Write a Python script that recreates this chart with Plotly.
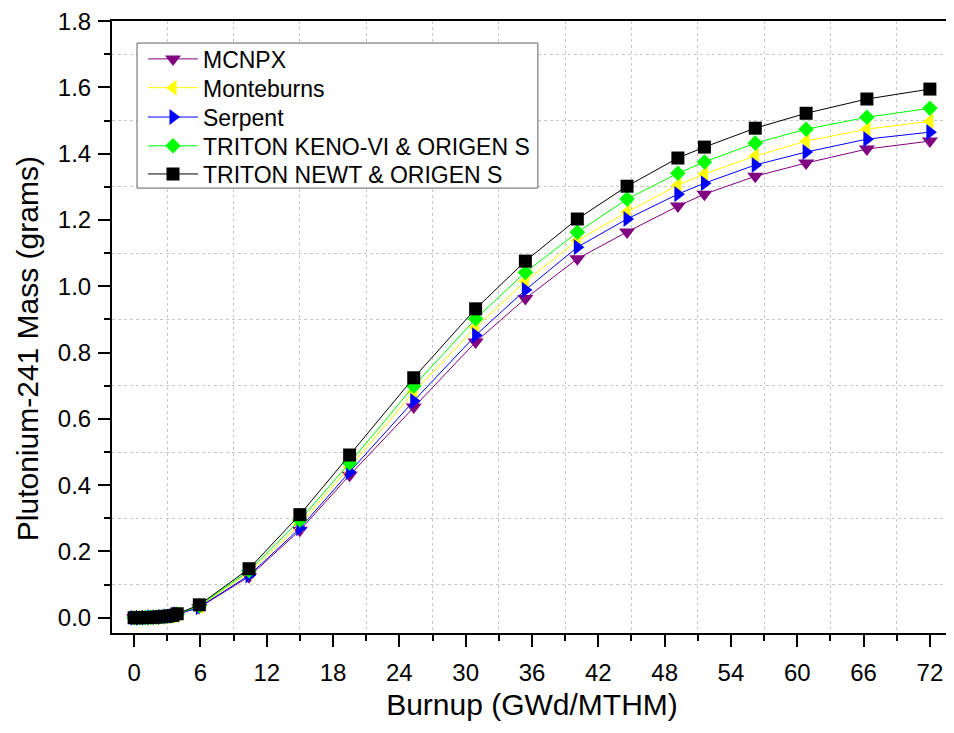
import plotly.graph_objects as go

burnup = [0, 0.5, 1.0, 1.5, 2.0, 2.5, 3.0, 3.5, 3.9, 5.9, 10.4, 15.0, 19.5, 25.3,
          30.9, 35.4, 40.1, 44.6, 49.2, 51.6, 56.2, 60.8, 66.3, 72.0]

mcnpx = [0, 0.0001, 0.0004, 0.0009, 0.0016, 0.0026, 0.0040, 0.0058, 0.0100, 0.031,
         0.124, 0.264, 0.430, 0.636, 0.832, 0.963, 1.083, 1.164, 1.242, 1.278,
         1.332, 1.372, 1.414, 1.438]
monteburns = [0, 0.0001, 0.0004, 0.0009, 0.0017, 0.0028, 0.0042, 0.0061, 0.0105, 0.034,
              0.136, 0.282, 0.455, 0.681, 0.876, 1.015, 1.138, 1.224, 1.305, 1.339,
              1.393, 1.438, 1.474, 1.498]
serpent = [0, 0.0001, 0.0004, 0.0009, 0.0016, 0.0027, 0.0041, 0.0060, 0.0102, 0.032,
           0.128, 0.270, 0.440, 0.654, 0.852, 0.989, 1.118, 1.203, 1.278, 1.311,
           1.366, 1.405, 1.444, 1.465]
keno = [0, 0.0001, 0.0005, 0.0010, 0.0018, 0.0029, 0.0044, 0.0064, 0.0110, 0.036,
        0.142, 0.295, 0.467, 0.699, 0.902, 1.042, 1.163, 1.263, 1.341, 1.375,
        1.432, 1.474, 1.510, 1.537]
newt = [0, 0.0001, 0.0005, 0.0011, 0.0019, 0.0031, 0.0047, 0.0068, 0.0120, 0.039,
        0.148, 0.311, 0.491, 0.724, 0.932, 1.076, 1.203, 1.302, 1.387, 1.420,
        1.477, 1.522, 1.565, 1.595]

series_names = ["MCNPX", "Monteburns", "Serpent",
                "TRITON KENO-VI & ORIGEN S", "TRITON NEWT & ORIGEN S"]
series_values = [mcnpx, monteburns, serpent, keno, newt]
series_colors = ["#800080", "#ffff00", "#0000ff", "#00ff00", "#000000"]
series_symbols = ["triangle-down", "triangle-left", "triangle-right", "diamond", "square"]
series_sizes = [14, 14, 14, 12, 13]

FONT = "Liberation Sans, Arial, sans-serif"
legend_ids = ["legend", "legend2", "legend3", "legend4", "legend5"]
legend_y = [0.938, 0.891, 0.843, 0.796, 0.750]

fig = go.Figure()
for i, name in enumerate(series_names):
    fig.add_trace(go.Scatter(
        x=burnup, y=series_values[i], name=name, mode="lines+markers",
        line=dict(color=series_colors[i], width=1),
        marker=dict(symbol=series_symbols[i], size=series_sizes[i],
                    color=series_colors[i], line=dict(width=0)),
        legend=legend_ids[i],
    ))

axis_common = dict(
    showline=True, linecolor="black", linewidth=2, mirror=True,
    ticks="outside", ticklen=12, tickwidth=2, tickcolor="black",
    showgrid=False, zeroline=False, automargin=False, ticklabeloverflow="allow",
    tickfont=dict(family=FONT, size=24, color="black"),
)

fig.update_xaxes(
    range=[-2, 74], tick0=0, dtick=6, ticklabelstandoff=5,
    minor=dict(dtick=3, ticks="outside", ticklen=6, tickwidth=2, tickcolor="black",
               showgrid=True, gridcolor="#c8c8c8", griddash="dot", gridwidth=1),
    title=dict(text="Burnup (GWd/MTHM)", font=dict(family=FONT, size=30, color="black"),
               standoff=9),
    **axis_common,
)
fig.update_yaxes(
    range=[-0.046, 1.8004], tick0=0, dtick=0.2, tickformat=".1f", ticklabelstandoff=2,
    minor=dict(dtick=0.1, ticks="outside", ticklen=6, tickwidth=2, tickcolor="black",
               showgrid=True, gridcolor="#c8c8c8", griddash="dot", gridwidth=1),
    **axis_common,
)

legend_layout = {}
for i, lid in enumerate(legend_ids):
    legend_layout[lid] = dict(
        x=0.0369, y=legend_y[i], xanchor="left", yanchor="middle",
        bgcolor="rgba(0,0,0,0)", borderwidth=0,
        font=dict(family=FONT, size=23, color="black"),
        itemwidth=50,
    )

fig.update_layout(
    width=946, height=725,
    margin=dict(l=104, r=2, t=13, b=100),
    plot_bgcolor="white", paper_bgcolor="white",
    showlegend=True,
    shapes=[dict(type="rect", xref="paper", yref="paper",
                 x0=0.0298, x1=0.507, y0=0.727, y1=0.964,
                 line=dict(color="#606060", width=1), fillcolor="white", layer="above")],
    annotations=[dict(text="Plutonium-241 Mass (grams)", textangle=-90,
                      xref="paper", yref="paper", x=-0.101, y=0.464,
                      xanchor="center", yanchor="middle", showarrow=False,
                      font=dict(family=FONT, size=30, color="black"))],
    **legend_layout,
)

fig.write_html("out.html")
